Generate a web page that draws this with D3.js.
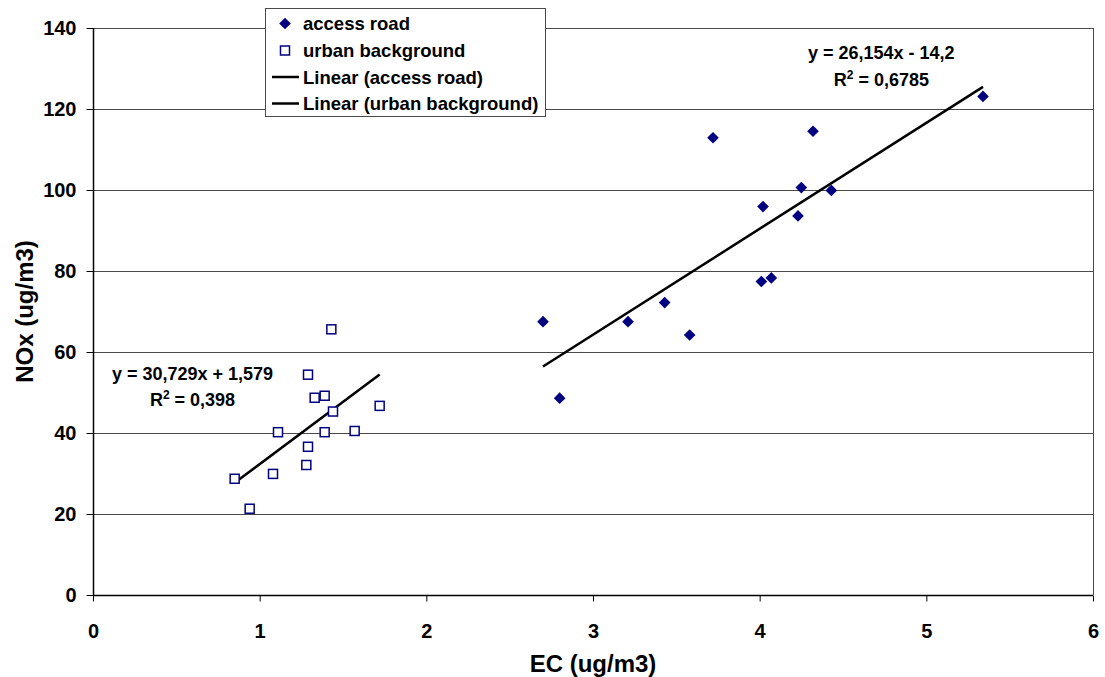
<!DOCTYPE html>
<html>
<head>
<meta charset="utf-8">
<script src="https://cdn.jsdelivr.net/npm/d3@7"></script>
<style>
  html, body { margin: 0; padding: 0; background: #fff; }
  svg { display: block; font-family: "Liberation Sans", Arial, sans-serif; font-weight: bold; }
</style>
</head>
<body>
<svg id="chart" width="1105" height="677"></svg>
<script>
// ---- data ----
const accessRoadEC  = [2.70, 2.80, 3.21, 3.43, 3.58, 3.72, 4.02, 4.01, 4.07, 4.23, 4.25, 4.32, 4.43, 5.34];
const accessRoadNOx = [67.5, 48.6, 67.5, 72.2, 64.2, 112.9, 95.9, 77.4, 78.3, 93.6, 100.6, 114.5, 99.9, 123.1];
const urbanEC  = [1.43, 1.29, 1.33, 1.39, 1.44, 1.72, 1.11, 1.39, 1.57, 1.29, 1.28, 1.08, 0.85, 0.94];
const urbanNOx = [65.6, 54.4, 48.7, 49.2, 45.3, 46.7, 40.2, 40.2, 40.5, 36.6, 32.1, 29.9, 28.7, 21.3];
const trendSlopes = [26.154, 30.729];
const trendIntercepts = [-14.2, 1.579];
const equationLabels = ["y = 26,154x - 14,2", "y = 30,729x + 1,579"];
const r2Labels = ["0,6785", "0,398"];
const xTicks = [0, 1, 2, 3, 4, 5, 6];
const yTicks = [0, 20, 40, 60, 80, 100, 120, 140];
const legendLabels = ["access road", "urban background", "Linear (access road)", "Linear (urban background)"];
const xTitle = "EC (ug/m3)";
const yTitle = "NOx (ug/m3)";

const navy = "#000080";
const svg = d3.select("#chart");
const L = 93, R = 1093, T = 28, B = 595;
const x = d3.scaleLinear().domain([0, 6]).range([L, R]);
const y = d3.scaleLinear().domain([0, 140]).range([B, T]);

// gridlines
svg.append("g").selectAll("line").data(yTicks.filter(d => d > 0)).join("line")
  .attr("x1", L).attr("x2", R)
  .attr("y1", d => Math.round(y(d)) + 0.5).attr("y2", d => Math.round(y(d)) + 0.5)
  .attr("stroke", "#4a4a4a").attr("stroke-width", 1);
// right border
svg.append("line").attr("x1", R + 0.5).attr("x2", R + 0.5).attr("y1", T).attr("y2", B)
  .attr("stroke", "#4a4a4a");

// axes
const yAxis = d3.axisLeft(y).tickValues(yTicks).tickSize(7).tickPadding(10).tickFormat(d3.format("d"));
const gy = svg.append("g").attr("transform", `translate(${L + 0.5},0)`).call(yAxis);
const xAxis = d3.axisBottom(x).tickValues(xTicks).tickSize(6).tickPadding(22).tickFormat(d3.format("d"));
const gx = svg.append("g").attr("transform", `translate(0,${B + 0.5})`).call(xAxis);
[gx, gy].forEach(g => {
  g.select(".domain").attr("stroke", "#000").attr("stroke-width", 1.5);
  g.selectAll(".tick line").attr("stroke", "#000");
  g.selectAll("text").attr("font-size", 20).attr("font-weight", "bold")
    .attr("font-family", "Liberation Sans, Arial, sans-serif").attr("fill", "#000");
});
gx.select(".domain").attr("d", `M${L},0H${R}`);
gy.select(".domain").attr("d", `M0,${T}V${B}`);

// trend lines
const trendData = [
  { xs: accessRoadEC, m: trendSlopes[0], b: trendIntercepts[0] },
  { xs: urbanEC, m: trendSlopes[1], b: trendIntercepts[1] }
];
trendData.forEach(t => {
  const [x0, x1] = d3.extent(t.xs);
  svg.append("line")
    .attr("x1", x(x0)).attr("y1", y(t.m * x0 + t.b))
    .attr("x2", x(x1)).attr("y2", y(t.m * x1 + t.b))
    .attr("stroke", "#000").attr("stroke-width", 2.5);
});

// points
const diamond = d3.symbol().type(d3.symbolSquare).size(68);
svg.append("g").selectAll("path").data(accessRoadEC.map((d, i) => [d, accessRoadNOx[i]])).join("path")
  .attr("d", diamond)
  .attr("transform", d => `translate(${x(d[0])},${y(d[1])}) rotate(45)`)
  .attr("fill", navy);
svg.append("g").selectAll("rect").data(urbanEC.map((d, i) => [d, urbanNOx[i]])).join("rect")
  .attr("x", d => x(d[0]) - 4.5).attr("y", d => y(d[1]) - 4.5)
  .attr("width", 9).attr("height", 9)
  .attr("fill", "#fff").attr("stroke", navy).attr("stroke-width", 1.5);

// equations
function eq(label, r2, cx, by1, by2) {
  svg.append("text").attr("x", cx).attr("y", by1).attr("text-anchor", "middle")
    .attr("font-size", 18).text(label);
  const t = svg.append("text").attr("x", cx).attr("y", by2).attr("text-anchor", "middle")
    .attr("font-size", 18);
  t.append("tspan").text("R");
  t.append("tspan").attr("font-size", 12).attr("dy", -7).text("2");
  t.append("tspan").attr("dy", 7).text(" = " + r2);
}
eq(equationLabels[0], r2Labels[0], x(4.73), y(132.3), y(125.6));
eq(equationLabels[1], r2Labels[1], x(0.597), y(53.1), y(46.7));

// axis titles
svg.append("text").attr("x", (L + R) / 2).attr("y", 672).attr("text-anchor", "middle")
  .attr("font-size", 24).text(xTitle);
svg.append("text").attr("transform", `translate(33,${(T + B) / 2}) rotate(-90)`)
  .attr("text-anchor", "middle").attr("font-size", 24).text(yTitle);

// legend
const lg = svg.append("g");
lg.append("rect").attr("x", 265.5).attr("y", 8.5).attr("width", 280).attr("height", 108)
  .attr("fill", "#fff").attr("stroke", "#4a4a4a").attr("stroke-width", 1);
const rowY = [23.5, 50.5, 77, 103.5];
legendLabels.forEach((lab, i) => {
  lg.append("text").attr("x", 303).attr("y", rowY[i] + 6.5).attr("font-size", 18.5).text(lab);
});
lg.append("path").attr("d", diamond).attr("transform", `translate(285,${rowY[0]}) rotate(45)`).attr("fill", navy);
lg.append("rect").attr("x", 280.5).attr("y", rowY[1] - 4.5).attr("width", 9).attr("height", 9)
  .attr("fill", "#fff").attr("stroke", navy).attr("stroke-width", 1.5);
[2, 3].forEach(i => lg.append("line").attr("x1", 272).attr("x2", 299)
  .attr("y1", rowY[i]).attr("y2", rowY[i]).attr("stroke", "#000").attr("stroke-width", 2.5));
</script>
</body>
</html>
